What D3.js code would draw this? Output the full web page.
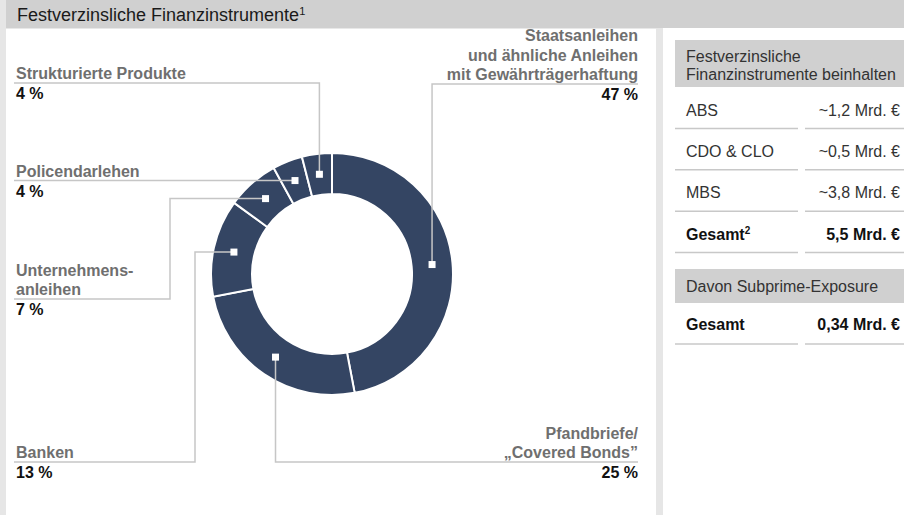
<!DOCTYPE html>
<html>
<head>
<meta charset="utf-8">
<script src="https://cdn.jsdelivr.net/npm/d3@7"></script>
<style>
  body { margin: 0; background: #fff; }
  svg { display: block; font-family: "Liberation Sans", Arial, sans-serif; }
</style>
</head>
<body>
<div id="chart"></div>
<script>
// data
const categories = [
  "Staatsanleihen und ähnliche Anleihen mit Gewährträgerhaftung",
  "Pfandbriefe/„Covered Bonds”",
  "Banken",
  "Unternehmensanleihen",
  "Policendarlehen",
  "Strukturierte Produkte"
];
const labelLines = [
  ["Staatsanleihen", "und ähnliche Anleihen", "mit Gewährträgerhaftung"],
  ["Pfandbriefe/", "„Covered Bonds”"],
  ["Banken"],
  ["Unternehmens-", "anleihen"],
  ["Policendarlehen"],
  ["Strukturierte Produkte"]
];
const shares = [47, 25, 13, 7, 4, 4];

const tableRows = ["ABS", "CDO & CLO", "MBS"];
const tableValues = ["~1,2 Mrd. €", "~0,5 Mrd. €", "~3,8 Mrd. €"];
const totalLabel = "Gesamt";
const totalValue = "5,5 Mrd. €";
const subprimeLabel = "Gesamt";
const subprimeValue = "0,34 Mrd. €";

// label placement (layout only)
const labelLayout = [
  { side: "right", lineY: 84, route: "vertical" },
  { side: "right", lineY: 462, route: "vertical" },
  { side: "left", lineY: 462, route: "elbow", elbowX: 195 },
  { side: "left", lineY: 299, route: "elbow", elbowX: 170 },
  { side: "left", lineY: null, route: "straight" },
  { side: "left", lineY: 83, route: "vertical" }
];

const W = 904, H = 515;
const navy = "#344563";
const lineGrey = "#c6c6c6";
const labelGrey = "#6f6f6f";

const svg = d3.select("#chart")
  .append("svg")
  .attr("width", W)
  .attr("height", H);

// panels
svg.append("rect").attr("x", 0).attr("y", 0).attr("width", 6).attr("height", H).attr("fill", "#e6e6e6");
svg.append("rect").attr("x", 656).attr("y", 28).attr("width", 7).attr("height", H - 28).attr("fill", "#e6e6e6");
svg.append("rect").attr("x", 6).attr("y", 0).attr("width", W - 6).attr("height", 28).attr("fill", "#d0d0d0");
svg.append("rect").attr("x", 6).attr("y", 28).attr("width", 650).attr("height", 1).attr("fill", "#e8e8e8");

const title = svg.append("text")
  .attr("x", 17)
  .attr("y", 21)
  .attr("fill", "#1a1a1a")
  .style("font-size", "18px")
  .text("Festverzinsliche Finanzinstrumente");
title.append("tspan").attr("dy", -6).style("font-size", "11px").text("1");

// donut
const cx = 332, cy = 274;
const rOuter = 121, rInner = 80;
const leftX = 14, rightX = 638;

const pie = d3.pie().sort(null).value(d => d)
  .startAngle(0).endAngle(2 * Math.PI);
const arc = d3.arc().innerRadius(rInner).outerRadius(rOuter);
const arcs = pie(shares);

const g = svg.append("g").attr("transform", `translate(${cx},${cy})`);

g.selectAll("path")
  .data(arcs)
  .join("path")
  .attr("d", arc)
  .attr("fill", navy)
  .attr("stroke", "#fff")
  .attr("stroke-width", 2);

const markers = arcs.map(a => {
  const c = arc.centroid(a);
  return [cx + c[0], cy + c[1]];
});

// leader lines
const leader = (m, l) => {
  const [mx, my] = m;
  const endX = l.side === "left" ? leftX : rightX;
  if (l.route === "vertical") return `M${mx},${my}V${l.lineY}H${endX}`;
  if (l.route === "elbow") return `M${mx},${my}H${l.elbowX}V${l.lineY}H${endX}`;
  return `M${mx},${my}H${endX}`;
};

svg.append("g")
  .selectAll("path")
  .data(labelLayout)
  .join("path")
  .attr("d", (l, i) => leader(markers[i], l))
  .attr("fill", "none")
  .attr("stroke", lineGrey)
  .attr("stroke-width", 1.5);

svg.append("g")
  .selectAll("rect")
  .data(markers)
  .join("rect")
  .attr("x", d => d[0] - 3.5)
  .attr("y", d => d[1] - 3.5)
  .attr("width", 7)
  .attr("height", 7)
  .attr("fill", "#fff");

// labels
const lineH = 19.5;
const labels = svg.append("g")
  .selectAll("g")
  .data(labelLayout)
  .join("g");

labels.each(function (l, i) {
  const sel = d3.select(this);
  const y0 = l.lineY === null ? markers[i][1] : l.lineY;
  const x = l.side === "left" ? 16 : rightX;
  const anchor = l.side === "left" ? "start" : "end";
  const lines = labelLines[i];
  lines.forEach((t, k) => {
    sel.append("text")
      .attr("x", x)
      .attr("y", y0 - 4 - (lines.length - 1 - k) * lineH)
      .attr("text-anchor", anchor)
      .attr("fill", labelGrey)
      .style("font-weight", "bold")
      .style("font-size", "16px")
      .text(t);
  });
  sel.append("text")
    .attr("x", x)
    .attr("y", y0 + 16)
    .attr("text-anchor", anchor)
    .attr("fill", "#111")
    .style("font-weight", "bold")
    .style("font-size", "16px")
    .text(`${shares[i]} %`);
});

// right-hand tables
const tx0 = 675, tx1 = W, textX = 686, valX = 900, splitA = 798, splitB = 805;
const fs = "16px";

const sepLine = y => {
  svg.append("line").attr("x1", tx0).attr("x2", splitA).attr("y1", y).attr("y2", y)
    .attr("stroke", "#c8c8c8").attr("stroke-width", 1.5);
  svg.append("line").attr("x1", splitB).attr("x2", tx1).attr("y1", y).attr("y2", y)
    .attr("stroke", "#c8c8c8").attr("stroke-width", 1.5);
};

svg.append("rect").attr("x", tx0).attr("y", 40).attr("width", tx1 - tx0).attr("height", 47).attr("fill", "#d0d0d0");
svg.append("text").attr("x", textX).attr("y", 62).attr("fill", "#333").style("font-size", fs).text("Festverzinsliche");
svg.append("text").attr("x", textX).attr("y", 80).attr("fill", "#333").style("font-size", fs).text("Finanzinstrumente beinhalten");

const allRows = [...tableRows, totalLabel];
const rowY = d3.scaleBand()
  .domain(allRows)
  .range([87, 252.5]);

const rows = svg.append("g")
  .selectAll("g")
  .data(allRows)
  .join("g")
  .attr("transform", d => `translate(0,${rowY(d)})`);

const first = rows.append("text")
  .attr("x", textX)
  .attr("y", rowY.bandwidth() / 2 + 8)
  .attr("fill", d => d === totalLabel ? "#111" : "#333")
  .style("font-weight", d => d === totalLabel ? "bold" : "normal")
  .style("font-size", fs)
  .text(d => d);
first.filter(d => d === totalLabel)
  .append("tspan").attr("dy", -6).style("font-size", "10px").text("2");

rows.append("text")
  .attr("x", valX)
  .attr("y", rowY.bandwidth() / 2 + 8)
  .attr("text-anchor", "end")
  .attr("fill", d => d === totalLabel ? "#111" : "#333")
  .style("font-weight", d => d === totalLabel ? "bold" : "normal")
  .style("font-size", fs)
  .text((d, i) => i < tableValues.length ? tableValues[i] : totalValue);

allRows.forEach(d => sepLine(rowY(d) + rowY.bandwidth()));

svg.append("rect").attr("x", tx0).attr("y", 269).attr("width", tx1 - tx0).attr("height", 34).attr("fill", "#d0d0d0");
svg.append("text").attr("x", textX).attr("y", 292).attr("fill", "#333").style("font-size", fs).text("Davon Subprime-Exposure");
svg.append("text").attr("x", textX).attr("y", 330).attr("fill", "#111").style("font-weight", "bold").style("font-size", fs).text(subprimeLabel);
svg.append("text").attr("x", valX).attr("y", 330).attr("text-anchor", "end").attr("fill", "#111").style("font-weight", "bold").style("font-size", fs).text(subprimeValue);
sepLine(344);
</script>
</body>
</html>
